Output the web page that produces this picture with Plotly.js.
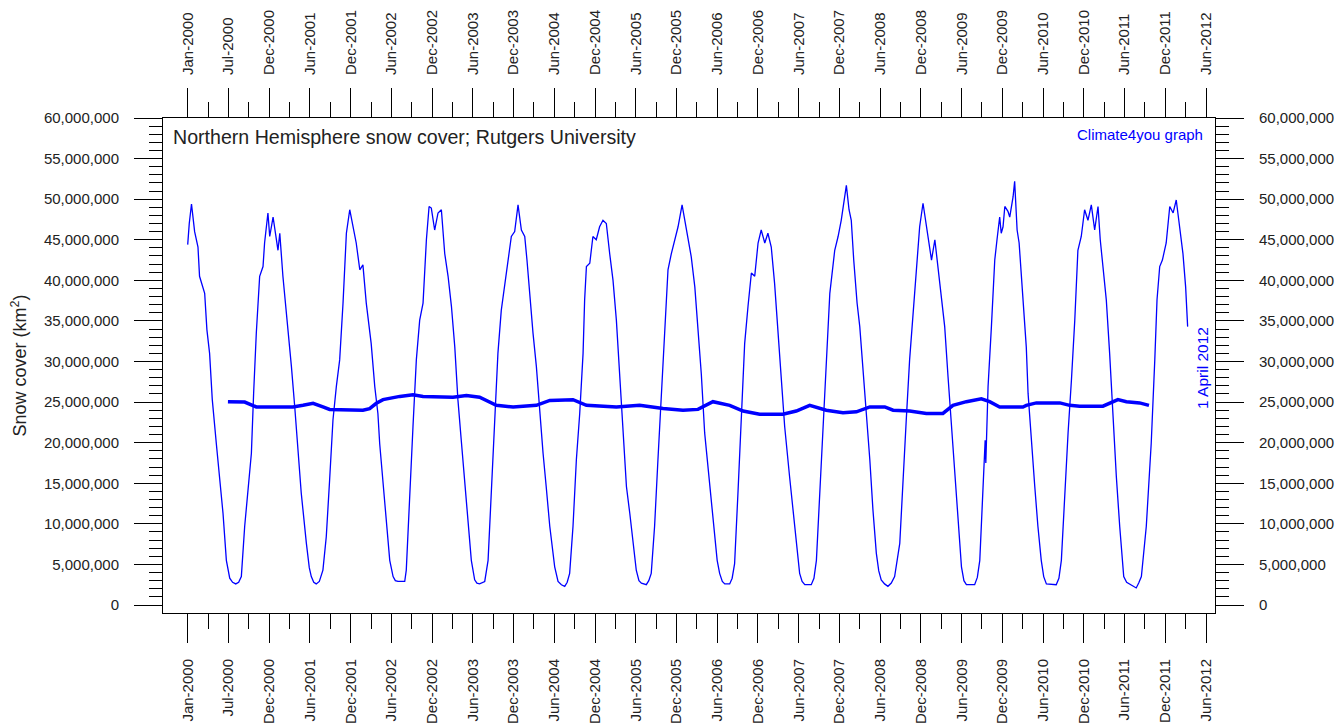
<!DOCTYPE html>
<html>
<head>
<meta charset="utf-8">
<script src="https://cdn.plot.ly/plotly-3.0.1.min.js"></script>
<style>
  html, body { margin: 0; padding: 0; background: #fff; }
  #chart { width: 1338px; height: 725px; }
</style>
</head>
<body>
<div id="chart"></div>
<script>
// Weekly-ish Northern Hemisphere snow cover (km²)
const coverDates = [
  '2000-01-01','2000-01-08','2000-01-18','2000-01-25','2000-02-01','2000-02-16','2000-02-23','2000-03-17','2000-03-27','2000-04-08',
  '2000-04-20','2000-05-08','2000-05-23','2000-06-07','2000-06-22','2000-07-07','2000-07-20','2000-08-03','2000-08-16','2000-08-28',
  '2000-09-12','2000-09-27','2000-10-12','2000-10-22','2000-11-03','2000-11-18','2000-12-03','2000-12-10','2000-12-25',
  '2001-01-02','2001-01-17','2001-02-08','2001-02-16','2001-03-02','2001-03-25','2001-04-09','2001-04-24','2001-05-09','2001-05-23',
  '2001-06-15','2001-06-28','2001-07-07','2001-07-18','2001-07-29','2001-08-12','2001-08-28','2001-09-12','2001-09-27','2001-10-12',
  '2001-10-27','2001-11-11','2001-11-26','2001-12-11','2001-12-26',
  '2002-01-10','2002-01-24','2002-02-09','2002-02-23','2002-03-10','2002-04-01','2002-04-17','2002-05-01','2002-05-09','2002-05-24',
  '2002-06-08','2002-06-23','2002-07-08','2002-07-18','2002-07-30','2002-08-15','2002-08-29','2002-09-05','2002-09-20','2002-10-05',
  '2002-10-20','2002-11-04','2002-11-19','2002-12-04','2002-12-16','2002-12-26',
  '2003-01-10','2003-01-25','2003-02-09','2003-02-24','2003-03-11','2003-03-26','2003-04-10','2003-04-24','2003-05-09','2003-05-24',
  '2003-06-08','2003-06-23','2003-07-08','2003-07-18','2003-07-30','2003-08-10','2003-08-22','2003-09-06','2003-09-20','2003-10-06',
  '2003-10-20','2003-11-04','2003-11-19','2003-12-04','2003-12-19',
  '2004-01-03','2004-01-18','2004-02-02','2004-02-17','2004-02-27','2004-03-10','2004-03-25','2004-04-09','2004-04-24','2004-05-09',
  '2004-05-23','2004-06-08','2004-06-30','2004-07-15','2004-07-30','2004-08-14','2004-08-25','2004-09-05','2004-09-20','2004-10-05',
  '2004-10-20','2004-11-04','2004-11-11','2004-11-19','2004-12-04','2004-12-18',
  '2005-01-02','2005-01-17','2005-02-01','2005-02-16','2005-03-03','2005-03-18','2005-04-02','2005-04-17','2005-05-02','2005-05-17',
  '2005-06-01','2005-06-15','2005-06-30','2005-07-12','2005-07-23','2005-08-14','2005-08-25','2005-09-05','2005-09-20','2005-10-05',
  '2005-10-20','2005-11-04','2005-11-19','2005-12-04','2005-12-19',
  '2006-01-03','2006-01-21','2006-02-02','2006-02-17','2006-03-03','2006-03-19','2006-04-02','2006-04-17','2006-05-02','2006-05-17',
  '2006-06-01','2006-06-16','2006-06-27','2006-07-08','2006-07-20','2006-07-31','2006-08-22','2006-09-02','2006-09-13','2006-09-28',
  '2006-10-13','2006-10-28','2006-11-12','2006-11-27','2006-12-12','2006-12-27',
  '2007-01-10','2007-01-26','2007-02-09','2007-02-24','2007-03-11','2007-03-26','2007-04-10','2007-04-25','2007-05-17','2007-06-02',
  '2007-06-16','2007-07-01','2007-07-12','2007-07-24','2007-08-22','2007-09-03','2007-09-14','2007-09-29','2007-10-14','2007-10-28',
  '2007-11-13','2007-12-05','2007-12-20',
  '2008-01-03','2008-01-19','2008-01-26','2008-02-07','2008-02-17','2008-02-28','2008-03-14','2008-03-26','2008-04-09','2008-04-24',
  '2008-05-10','2008-05-24','2008-06-08','2008-06-19','2008-06-30','2008-07-15','2008-07-30','2008-08-14','2008-08-29','2008-09-21',
  '2008-10-05','2008-10-20','2008-11-04','2008-11-19','2008-12-04','2008-12-19',
  '2009-01-03','2009-01-18','2009-02-02','2009-02-10','2009-02-25','2009-03-07','2009-03-21','2009-04-10','2009-04-25','2009-05-10',
  '2009-05-25','2009-06-09','2009-06-24','2009-07-05','2009-07-16','2009-08-22','2009-09-03','2009-09-14','2009-09-28','2009-10-08',
  '2009-10-11','2009-10-21','2009-11-05','2009-11-12','2009-11-20','2009-11-30','2009-12-12','2009-12-19','2009-12-27',
  '2010-01-04','2010-01-18','2010-01-26','2010-02-10','2010-02-17','2010-02-28','2010-03-09','2010-03-19','2010-03-30','2010-04-10',
  '2010-04-18','2010-05-03','2010-05-18','2010-06-01','2010-06-16','2010-06-27','2010-07-09','2010-08-22','2010-09-03','2010-09-14',
  '2010-09-29','2010-10-14','2010-10-29','2010-11-13','2010-11-27','2010-12-12','2010-12-27',
  '2011-01-11','2011-01-26','2011-02-10','2011-02-25','2011-03-07','2011-03-19','2011-04-03','2011-04-18','2011-05-03','2011-05-18',
  '2011-06-02','2011-06-20','2011-07-03','2011-07-17','2011-08-15','2011-08-26','2011-09-07','2011-09-29','2011-10-21','2011-11-06',
  '2011-11-16','2011-11-28','2011-12-10','2011-12-27',
  '2012-01-12','2012-01-27','2012-02-10','2012-02-25','2012-03-11','2012-03-23','2012-04-01'
];
const coverValues = [
  44.4e6,47.0e6,49.4e6,47.5e6,46.0e6,44.1e6,40.5e6,38.4e6,33.9e6,31.0e6,
  25.3e6,19.9e6,15.4e6,11.3e6,5.5e6,3.3e6,2.8e6,2.6e6,2.8e6,3.5e6,
  9.7e6,14.2e6,18.7e6,26.1e6,33.5e6,40.5e6,41.7e6,44.6e6,48.3e6,
  45.4e6,47.8e6,43.7e6,45.8e6,40.5e6,34.3e6,29.4e6,24.4e6,18.7e6,13.8e6,
  7.6e6,4.6e6,3.5e6,2.8e6,2.6e6,2.9e6,4.3e6,8.4e6,15.4e6,22.8e6,
  26.9e6,30.2e6,37.2e6,45.8e6,48.7e6,
  46.6e6,44.6e6,41.3e6,41.9e6,37.2e6,32.2e6,26.9e6,23.6e6,19.9e6,15.4e6,
  10.5e6,5.5e6,3.5e6,3.0e6,2.9e6,2.9e6,2.9e6,4.3e6,13.8e6,22.0e6,
  30.2e6,35.1e6,37.2e6,45.0e6,49.1e6,48.9e6,
  46.2e6,48.3e6,48.7e6,43.3e6,40.5e6,36.8e6,31.8e6,25.3e6,20.3e6,15.4e6,
  10.5e6,5.5e6,3.1e6,2.7e6,2.6e6,2.7e6,2.9e6,5.5e6,13.8e6,22.0e6,
  31.0e6,36.3e6,39.2e6,42.5e6,45.4e6,
  46.0e6,49.3e6,46.2e6,45.4e6,42.5e6,38.4e6,33.5e6,29.4e6,23.6e6,18.7e6,
  14.6e6,9.7e6,4.7e6,2.9e6,2.5e6,2.3e6,2.8e6,3.9e6,9.7e6,17.9e6,
  23.6e6,31.0e6,37.6e6,41.7e6,42.1e6,45.4e6,
  45.0e6,46.6e6,47.4e6,47.0e6,43.3e6,40.0e6,35.1e6,28.1e6,21.2e6,14.6e6,
  11.3e6,7.6e6,4.3e6,3.0e6,2.7e6,2.5e6,3.0e6,3.9e6,9.7e6,17.9e6,
  26.1e6,34.3e6,41.3e6,43.3e6,45.0e6,
  46.6e6,49.3e6,47.4e6,45.0e6,42.9e6,39.2e6,34.3e6,28.5e6,21.2e6,17.0e6,
  12.1e6,8.0e6,5.5e6,3.9e6,2.9e6,2.6e6,2.6e6,3.3e6,5.1e6,13.8e6,
  24.0e6,32.2e6,36.8e6,40.9e6,40.5e6,44.6e6,
  46.2e6,44.6e6,45.8e6,44.1e6,39.6e6,33.5e6,27.7e6,22.0e6,15.8e6,11.7e6,
  7.6e6,3.9e6,2.9e6,2.5e6,2.5e6,3.3e6,5.5e6,13.8e6,22.0e6,30.2e6,
  38.4e6,43.7e6,45.4e6,
  47.4e6,50.3e6,51.7e6,48.7e6,47.4e6,42.5e6,37.2e6,34.3e6,29.4e6,24.4e6,
  17.9e6,11.7e6,6.4e6,4.2e6,3.1e6,2.6e6,2.3e6,2.7e6,3.5e6,7.6e6,
  15.8e6,22.8e6,30.2e6,35.9e6,41.3e6,46.6e6,
  49.5e6,46.6e6,44.1e6,42.5e6,45.0e6,42.5e6,39.2e6,34.3e6,28.1e6,22.0e6,
  15.8e6,9.7e6,4.7e6,3.0e6,2.5e6,2.5e6,3.4e6,5.5e6,13.8e6,20.3e6,
  17.5e6,26.9e6,34.3e6,37.6e6,42.5e6,45.0e6,47.8e6,45.8e6,46.6e6,
  49.1e6,48.5e6,47.8e6,50.3e6,52.2e6,46.2e6,44.6e6,40.5e6,37.2e6,31.8e6,
  26.1e6,19.9e6,14.6e6,9.7e6,5.5e6,3.5e6,2.6e6,2.5e6,3.3e6,5.5e6,
  13.8e6,21.2e6,27.7e6,35.1e6,43.7e6,45.4e6,48.7e6,
  47.4e6,49.3e6,46.2e6,49.1e6,45.0e6,41.7e6,37.6e6,31.0e6,22.8e6,15.8e6,
  9.7e6,3.5e6,2.8e6,2.6e6,2.1e6,2.7e6,3.5e6,9.7e6,19.9e6,30.2e6,
  37.6e6,41.7e6,42.5e6,44.6e6,
  49.1e6,48.3e6,49.9e6,46.6e6,43.3e6,39.2e6,34.3e6
];

// 12-month running average (km²)
const avgDates = [
  '2000-06-29','2000-09-12','2000-11-03','2000-12-03','2001-04-16','2001-05-31','2001-07-15','2001-08-28','2001-09-27','2002-02-23',
  '2002-03-25','2002-04-24','2002-05-24','2002-08-07','2002-10-05','2002-11-19','2003-04-02','2003-06-01','2003-07-30','2003-10-13',
  '2003-12-27','2004-04-09','2004-06-08','2004-09-20','2004-11-19','2005-04-02','2005-07-15','2005-10-28','2006-01-25','2006-04-02',
  '2006-06-08','2006-08-22','2006-10-21','2007-01-03','2007-04-17','2007-06-16','2007-08-15','2007-10-28','2008-01-11','2008-03-11',
  '2008-05-10','2008-07-16','2008-08-22','2008-11-04','2009-01-18','2009-04-02','2009-05-17','2009-07-16','2009-09-21','2009-10-28',
  '2009-12-12','2010-03-26','2010-04-10','2010-05-25','2010-09-07','2010-10-21','2010-12-05','2011-03-19','2011-04-18','2011-05-25',
  '2011-07-02','2011-08-30','2011-10-11'
];
const avgValues = [
  25.05e6,25.0e6,24.4e6,24.4e6,24.4e6,24.6e6,24.85e6,24.4e6,24.1e6,24.0e6,
  24.2e6,24.85e6,25.3e6,25.7e6,25.9e6,25.7e6,25.6e6,25.8e6,25.6e6,24.6e6,
  24.4e6,24.6e6,25.2e6,25.3e6,24.6e6,24.4e6,24.6e6,24.2e6,24.0e6,24.1e6,
  25.05e6,24.6e6,23.9e6,23.5e6,23.5e6,23.9e6,24.6e6,24.0e6,23.7e6,23.8e6,
  24.4e6,24.4e6,24.0e6,23.9e6,23.6e6,23.6e6,24.6e6,25.05e6,25.4e6,25.05e6,
  24.4e6,24.4e6,24.6e6,24.9e6,24.9e6,24.6e6,24.5e6,24.5e6,24.85e6,25.3e6,
  25.05e6,24.9e6,24.6e6
];

// Tick labels (ticks every half-year from Jan 2000)
const tickLabels = [
  'Jan-2000','Jul-2000','Dec-2000','Jun-2001','Dec-2001','Jun-2002','Dec-2002','Jun-2003','Dec-2003',
  'Jun-2004','Dec-2004','Jun-2005','Dec-2005','Jun-2006','Dec-2006','Jun-2007','Dec-2007','Jun-2008',
  'Dec-2008','Jun-2009','Dec-2009','Jun-2010','Dec-2010','Jun-2011','Dec-2011','Jun-2012'
];

const DAY = 86400000;
const BASE = Date.UTC(2000, 0, 1);
const STEP = 182.25;
function dayStr(d) {
  return new Date(BASE + d * DAY).toISOString().replace('T', ' ').slice(0, 19);
}
const majorVals = tickLabels.map((_, k) => dayStr(k * STEP));
const minorVals = tickLabels.slice(0, -1).map((_, k) => dayStr(k * STEP + STEP / 2));
const xRange = [dayStr(-110.5), dayStr(4596.4)];
const yRange = [-985000, 60000000];

const FONT = '"Liberation Sans", Arial, sans-serif';
const TXT = '#222222';
const BLUE = 'rgb(0,0,255)';

const traces = [
  { x: coverDates, y: coverValues, type: 'scatter', mode: 'lines',
    line: { color: BLUE, width: 1.3 }, xaxis: 'x', yaxis: 'y', hoverinfo: 'x+y' },
  { x: avgDates, y: avgValues, type: 'scatter', mode: 'lines',
    line: { color: BLUE, width: 3.5 }, xaxis: 'x', yaxis: 'y', hoverinfo: 'x+y' },
  { x: [xRange[0]], y: [null], type: 'scatter', mode: 'lines', xaxis: 'x2', yaxis: 'y2', showlegend: false, hoverinfo: 'skip' }
];

const xCommon = {
  type: 'date', range: xRange, showgrid: false, zeroline: false,
  showline: true, linecolor: '#000', linewidth: 1,
  tickmode: 'array', tickvals: majorVals, ticktext: tickLabels,
  ticks: 'outside', ticklen: 29, tickwidth: 1, tickcolor: '#000',
  tickangle: -90, ticklabelstandoff: 10,
  tickfont: { family: FONT, size: 15, color: TXT },
  minor: { tickmode: 'array', tickvals: minorVals, ticks: 'outside', ticklen: 15, tickwidth: 1, tickcolor: '#000', showgrid: false }
};
const yCommon = {
  range: yRange, showgrid: false, zeroline: false,
  showline: true, linecolor: '#000', linewidth: 1,
  tickmode: 'linear', tick0: 0, dtick: 5000000, tickformat: ',d',
  ticks: 'outside', ticklen: 28, tickwidth: 1, tickcolor: '#000',
  ticklabelstandoff: 12,
  tickfont: { family: FONT, size: 15, color: TXT },
  minor: { tick0: 0, dtick: 1000000, ticks: 'outside', ticklen: 13, tickwidth: 1, tickcolor: '#000', showgrid: false }
};

const layout = {
  width: 1338, height: 725,
  margin: { l: 163, r: 123, t: 118, b: 112, pad: 0 },
  paper_bgcolor: '#fff', plot_bgcolor: '#fff',
  showlegend: false,
  font: { family: FONT, color: TXT },
  xaxis: Object.assign({}, xCommon, { side: 'bottom' }),
  xaxis2: Object.assign({}, xCommon, { side: 'top', overlaying: 'x' }),
  yaxis: Object.assign({}, yCommon, { side: 'left',
    title: { text: 'Snow cover (km<sup>2</sup>)', font: { family: FONT, size: 18, color: TXT }, standoff: 12 } }),
  yaxis2: Object.assign({}, yCommon, { side: 'right', overlaying: 'y' }),
  annotations: [
    { text: 'Northern Hemisphere snow cover; Rutgers University', xref: 'paper', yref: 'paper',
      x: 0.0076, y: 0.9616, xanchor: 'left', yanchor: 'middle', showarrow: false,
      font: { family: FONT, size: 19.6, color: TXT } },
    { text: 'Climate4you graph', xref: 'paper', yref: 'paper',
      x: 0.9905, y: 0.9657, xanchor: 'right', yanchor: 'middle', showarrow: false,
      font: { family: FONT, size: 15, color: BLUE } },
    { text: '1 April 2012', xref: 'paper', yref: 'paper',
      x: 0.9876, y: 0.4949, xanchor: 'center', yanchor: 'middle', showarrow: false, textangle: -90,
      font: { family: FONT, size: 15.5, color: BLUE } }
  ]
};

Plotly.newPlot('chart', traces, layout, { displayModeBar: false, staticPlot: true });
</script>
</body>
</html>
